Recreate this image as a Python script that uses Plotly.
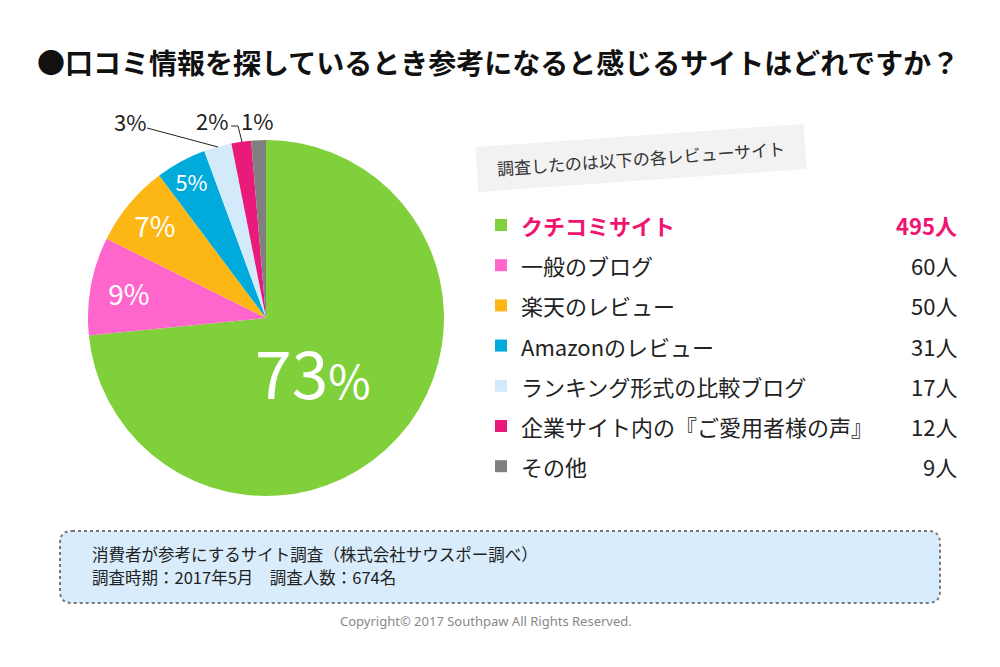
import plotly.graph_objects as go

# survey data
labels = ["クチコミサイト", "一般のブログ", "楽天のレビュー", "Amazonのレビュー",
          "ランキング形式の比較ブログ", "企業サイト内の『ご愛用者様の声』", "その他"]
counts = [495, 60, 50, 31, 17, 12, 9]
colors = ["#80D03C", "#FF66CC", "#FDB714", "#00AADB", "#D3EAFB", "#EA1A7B", "#808080"]

title = "●口コミ情報を探しているとき参考になると感じるサイトはどれですか？"
note = "調査したのは以下の各レビューサイト"
source_lines = ["消費者が参考にするサイト調査（株式会社サウスポー調べ）",
                "調査時期：2017年5月　調査人数：674名"]
copyright_txt = "Copyright© 2017 Southpaw All Rights Reserved."

JP = "Noto Sans CJK JP, Noto Sans, sans-serif"
OFF = 8  # page body margin
FW, FH = 1000 - OFF, 667 - OFF

total = sum(counts)
pcts = [round(c / total * 100) for c in counts]

# page pixel -> paper coords
def px(x):
    return (x - OFF) / FW

def py(y):
    return 1 - (y - OFF) / FH

inner_text = [f"{p}%" if 0 < i < 4 else "" for i, p in enumerate(pcts)]

fig = go.Figure(go.Pie(
    labels=labels,
    values=counts,
    sort=False,
    direction="clockwise",
    rotation=0,
    marker=dict(colors=colors, line=dict(width=0)),
    text=inner_text,
    textinfo="text",
    textposition=["none"] + ["inside"] * 3 + ["none"] * 3,
    insidetextorientation="horizontal",
    textfont=dict(family=JP, color="white", size=[10, 28, 28, 25, 10, 10, 10]),
    hoverinfo="label+value+percent",
    showlegend=False,
    domain=dict(x=[px(88), px(444)], y=[py(496), py(140)]),
))

shapes = []
annotations = []

def note_text(x, y, text, size, color, xa="center", ya="middle", **kw):
    annotations.append(dict(x=px(x), y=py(y), xref="paper", yref="paper", text=text,
                            xanchor=xa, yanchor=ya, showarrow=False,
                            font=dict(family=kw.pop("family", JP), size=size, color=color), **kw))

# title
note_text(498, 62, f"<b>{title}</b>", 28, "#111")

# big slice label
note_text(313, 370, f"{pcts[0]}<span style='font-size:46px'>%</span>", 66, "white")

# callouts for the small slices
for idx, cx, cy in [(4, 130, 121), (5, 212, 120), (6, 257, 120)]:
    note_text(cx, cy, f"{pcts[idx]}%", 22, "#222")
shapes.append(dict(type="path", xref="paper", yref="paper",
                   path=f"M {px(147)} {py(128)} L {px(218)} {py(147)}",
                   line=dict(color="#222", width=1)))
shapes.append(dict(type="path", xref="paper", yref="paper",
                   path=f"M {px(231)} {py(126)} L {px(238)} {py(126)} L {px(242)} {py(142)}",
                   line=dict(color="#222", width=1)))

# tilted grey note
note_text(641, 158, note, 17, "#333", textangle=-4, bgcolor="#F2F2F2",
          width=318, height=34, borderpad=5)

# legend rows
row_y0, row_step = 225, 40.2
for i, (lab, c, col) in enumerate(zip(labels, counts, colors)):
    y = row_y0 + i * row_step
    shapes.append(dict(type="rect", xref="paper", yref="paper",
                       x0=px(495), x1=px(507), y0=py(y + 6), y1=py(y - 6),
                       fillcolor=col, line=dict(width=0)))
    if i == 0:
        lab_txt, val_txt, tcol = f"<b>{lab}</b>", f"<b>{c}人</b>", "#F0136F"
    else:
        lab_txt, val_txt, tcol = lab, f"{c}人", "#222"
    note_text(519, y, lab_txt, 22, tcol, xa="left")
    note_text(959, y, val_txt, 22, tcol, xa="right")

# source box with dotted rounded border
x0, x1, y0, y1, r = 60, 940, 531, 603, 12
box = (f"M {px(x0 + r)} {py(y0)} L {px(x1 - r)} {py(y0)} "
       f"Q {px(x1)} {py(y0)} {px(x1)} {py(y0 + r)} L {px(x1)} {py(y1 - r)} "
       f"Q {px(x1)} {py(y1)} {px(x1 - r)} {py(y1)} L {px(x0 + r)} {py(y1)} "
       f"Q {px(x0)} {py(y1)} {px(x0)} {py(y1 - r)} L {px(x0)} {py(y0 + r)} "
       f"Q {px(x0)} {py(y0)} {px(x0 + r)} {py(y0)} Z")
shapes.append(dict(type="path", xref="paper", yref="paper", path=box,
                   fillcolor="#D8ECFB", line=dict(color="#777", width=2, dash="dot"),
                   layer="below"))
for j, line in enumerate(source_lines):
    note_text(90, 554 + j * 23, line, 16.5, "#222", xa="left")

note_text(486, 621, copyright_txt, 13, "#888", family="Noto Sans, sans-serif")

fig.update_layout(
    width=FW, height=FH,
    margin=dict(l=0, r=0, t=0, b=0),
    paper_bgcolor="white",
    plot_bgcolor="white",
    shapes=shapes,
    annotations=annotations,
)

fig.write_html("out.html")
